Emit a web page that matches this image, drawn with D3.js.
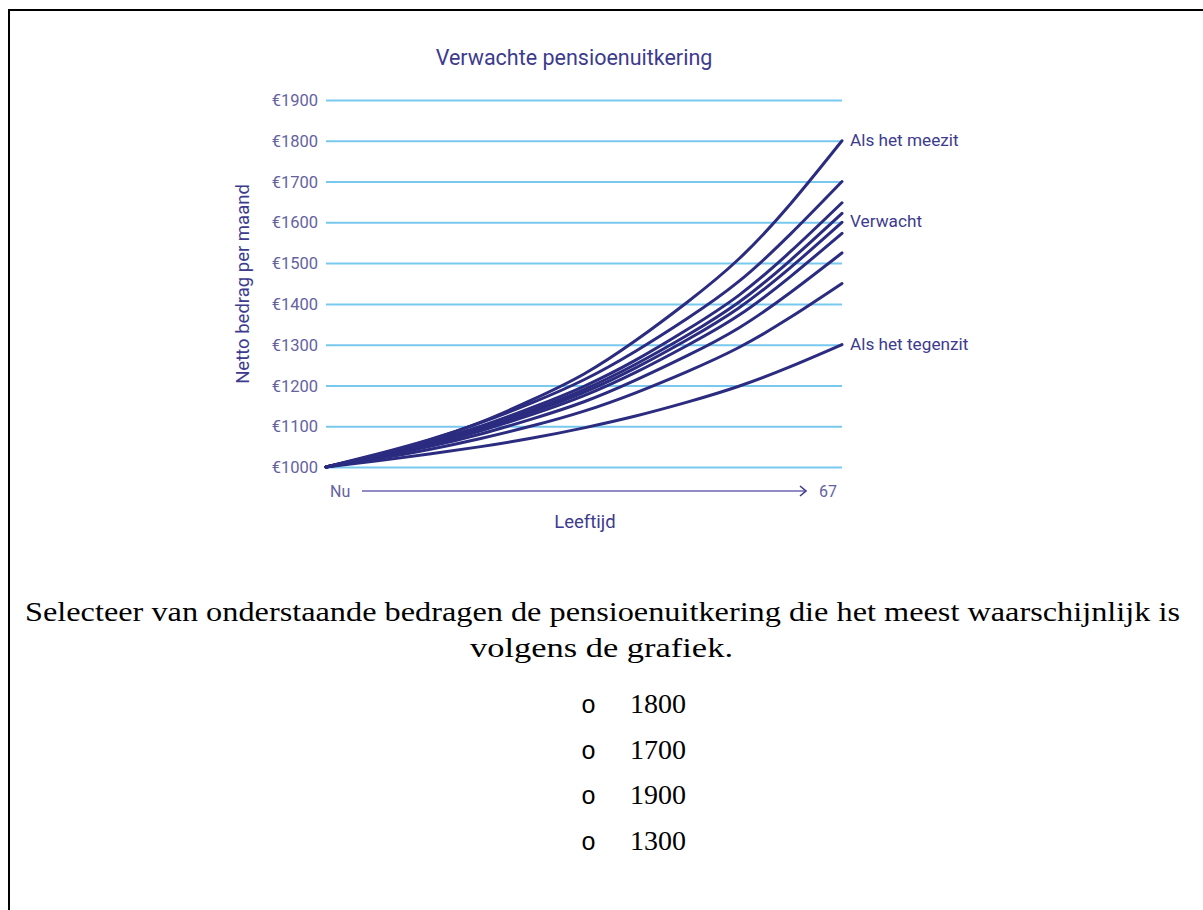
<!DOCTYPE html>
<html>
<head>
<meta charset="utf-8">
<script src="https://cdn.jsdelivr.net/npm/d3@7"></script>
<style>
  html, body { margin: 0; padding: 0; background: #fff; }
  svg { display: block; }
</style>
</head>
<body>
<svg id="page" width="1203" height="910"></svg>
<script>
// Steps from "Nu" (0) to age 67 (10)
const steps = [0, 1, 2, 3, 4, 5, 6, 7, 8, 9, 10];

// Projected net monthly pension per scenario, highest to lowest
const scenarioMeezit   = [1000, 1030, 1066, 1110, 1165, 1228, 1310, 1404, 1510, 1645, 1800];
const scenario2        = [1000, 1032, 1067, 1109, 1158, 1214, 1284, 1364, 1455, 1571, 1700];
const scenario3        = [1000, 1029, 1062, 1100, 1146, 1198, 1262, 1337, 1421, 1528, 1648];
const scenario4        = [1000, 1028, 1059, 1096, 1140, 1190, 1252, 1323, 1404, 1507, 1622];
const scenarioVerwacht = [1000, 1027, 1057, 1093, 1135, 1183, 1243, 1312, 1390, 1489, 1600];
const scenario6        = [1000, 1026, 1054, 1089, 1129, 1175, 1232, 1298, 1372, 1467, 1573];
const scenario7        = [1000, 1024, 1050, 1081, 1118, 1160, 1213, 1273, 1341, 1428, 1525];
const scenario8        = [1000, 1020, 1043, 1070, 1101, 1137, 1182, 1234, 1293, 1367, 1450];
const scenarioTegenzit = [1000, 1015, 1032, 1050, 1071, 1096, 1125, 1159, 1198, 1246, 1300];

const yTicks = [1000, 1100, 1200, 1300, 1400, 1500, 1600, 1700, 1800, 1900];

const seriesList = [
  { values: scenarioMeezit,   label: "Als het meezit" },
  { values: scenario2,        label: null },
  { values: scenario3,        label: null },
  { values: scenario4,        label: null },
  { values: scenarioVerwacht, label: "Verwacht" },
  { values: scenario6,        label: null },
  { values: scenario7,        label: null },
  { values: scenario8,        label: null },
  { values: scenarioTegenzit, label: "Als het tegenzit" }
];

const answerOptions = ["1800", "1700", "1900", "1300"];

const svg = d3.select("#page");

// Page frame (top and left rule)
svg.append("line").attr("x1", 9).attr("y1", 10).attr("x2", 1203).attr("y2", 10)
  .attr("stroke", "#000").attr("stroke-width", 2);
svg.append("line").attr("x1", 9).attr("y1", 9).attr("x2", 9).attr("y2", 910)
  .attr("stroke", "#000").attr("stroke-width", 2);

const sans = "Roboto, 'Noto Sans', sans-serif";
const textColor = "#3d3b8e";
const tickColor = "#64629f";

const x = d3.scaleLinear().domain([0, 10]).range([326, 842]);
const y = d3.scaleLinear().domain([1000, 1900]).range([467, 100]);

// Title
svg.append("text").attr("x", 574).attr("y", 65)
  .attr("text-anchor", "middle").attr("font-family", sans).attr("font-size", 21.5)
  .attr("fill", textColor).text("Verwachte pensioenuitkering");

// Horizontal gridlines and euro tick labels
const yAxis = d3.axisLeft(y)
  .tickValues(yTicks)
  .tickSize(-(x.range()[1] - x.range()[0]))
  .tickPadding(8)
  .tickFormat(d => "€" + d);

const gAxis = svg.append("g").attr("transform", `translate(${x.range()[0]},0)`).call(yAxis);
gAxis.select(".domain").remove();
gAxis.selectAll(".tick line").attr("stroke", "#79c9ee").attr("stroke-width", 2);
gAxis.selectAll(".tick text")
  .attr("font-family", sans).attr("font-size", 16.5).attr("fill", tickColor)
  .attr("dy", "0.34em");

// Y axis title
svg.append("text")
  .attr("transform", "translate(249,284) rotate(-90)")
  .attr("text-anchor", "middle").attr("font-family", sans).attr("font-size", 18.5)
  .attr("fill", textColor).text("Netto bedrag per maand");

// Scenario curves
const line = d3.line()
  .x((d, i) => x(steps[i]))
  .y(d => y(d))
  .curve(d3.curveNatural);

svg.append("g").selectAll("path")
  .data(seriesList.slice().reverse())
  .join("path")
  .attr("d", d => line(d.values))
  .attr("fill", "none")
  .attr("stroke", "#2b2c80")
  .attr("stroke-width", 3)
  .attr("stroke-linecap", "round");

// End labels
svg.append("g").selectAll("text")
  .data(seriesList.filter(s => s.label))
  .join("text")
  .attr("x", x(10) + 8)
  .attr("y", d => y(d.values[d.values.length - 1]))
  .attr("dy", "0.3em")
  .attr("font-family", sans).attr("font-size", 17.2)
  .attr("fill", textColor)
  .text(d => d.label);

// X axis: "Nu" → 67
const axisY = 491;
svg.append("text").attr("x", 330).attr("y", axisY).attr("dy", "0.35em")
  .attr("font-family", sans).attr("font-size", 16).attr("fill", tickColor).text("Nu");
svg.append("text").attr("x", 837).attr("y", axisY).attr("dy", "0.35em").attr("text-anchor", "end")
  .attr("font-family", sans).attr("font-size", 16).attr("fill", tickColor).text("67");
svg.append("line").attr("x1", 362).attr("y1", axisY).attr("x2", 806).attr("y2", axisY)
  .attr("stroke", "#6c66b2").attr("stroke-width", 1.6);
svg.append("path")
  .attr("d", `M${800},${axisY - 5} L${806},${axisY} L${800},${axisY + 5}`)
  .attr("fill", "none").attr("stroke", "#3d3b8e").attr("stroke-width", 1.6);

svg.append("text").attr("x", 585).attr("y", 528).attr("text-anchor", "middle")
  .attr("font-family", sans).attr("font-size", 18.5).attr("fill", textColor).text("Leeftijd");

// Question text
const serif = "'Liberation Serif', 'Times New Roman', serif";
svg.append("text").attr("x", 25).attr("y", 621)
  .attr("font-family", serif).attr("font-size", 27).attr("fill", "#000")
  .attr("textLength", 1155).attr("lengthAdjust", "spacingAndGlyphs")
  .text("Selecteer van onderstaande bedragen de pensioenuitkering die het meest waarschijnlijk is");
svg.append("text").attr("x", 470).attr("y", 657)
  .attr("font-family", serif).attr("font-size", 27).attr("fill", "#000")
  .attr("textLength", 263).attr("lengthAdjust", "spacingAndGlyphs")
  .text("volgens de grafiek.");

// Answer options
const opts = svg.append("g").selectAll("g")
  .data(answerOptions)
  .join("g")
  .attr("transform", (d, i) => `translate(0,${713 + i * 45.5})`);
opts.append("text").attr("x", 581).attr("y", 0)
  .attr("font-family", "'Liberation Mono', 'Courier New', monospace").attr("font-size", 25).attr("fill", "#000")
  .text("o");
opts.append("text").attr("x", 630).attr("y", 0)
  .attr("font-family", serif).attr("font-size", 27).attr("fill", "#000")
  .attr("textLength", 56).attr("lengthAdjust", "spacingAndGlyphs")
  .text(d => d);
</script>
</body>
</html>
